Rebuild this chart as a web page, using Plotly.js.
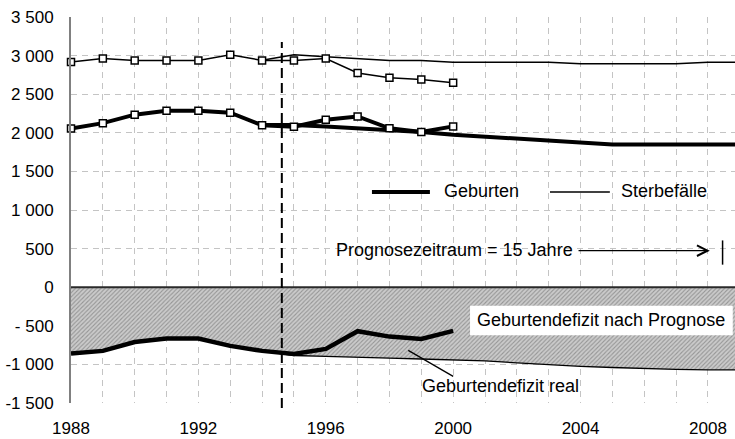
<!DOCTYPE html>
<html>
<head>
<meta charset="utf-8">
<script src="https://cdn.plot.ly/plotly-3.0.1.min.js"></script>
<style>
  html, body { margin: 0; padding: 0; background: #fff; }
  #chart { width: 735px; height: 439px; }
</style>
</head>
<body>
<div id="chart"></div>
<script>
// ---- data ----
const jahreReal = [1988, 1989, 1990, 1991, 1992, 1993, 1994, 1995, 1996, 1997, 1998, 1999, 2000];
const geburtenReal = [2055, 2125, 2235, 2285, 2285, 2260, 2098, 2078, 2170, 2212, 2058, 2010, 2083];
const sterbefaelleReal = [2917, 2962, 2938, 2938, 2938, 3010, 2938, 2938, 2962, 2775, 2712, 2690, 2648];
const defizitReal = [-860, -825, -710, -665, -665, -760, -825, -865, -800, -570, -640, -670, -565];

const jahrePrognose = [1994, 1995, 1996, 1997, 1998, 1999, 2000, 2001, 2002, 2003, 2004, 2005, 2006, 2007, 2008, 2009];
const geburtenPrognose = [2100, 2100, 2080, 2060, 2040, 2010, 1975, 1950, 1920, 1900, 1875, 1850, 1850, 1850, 1850, 1850];
const sterbefaellePrognose = [2940, 3010, 2985, 2960, 2935, 2935, 2915, 2915, 2915, 2915, 2895, 2895, 2895, 2895, 2915, 2915];

const jahreDefizit = [1988, 1989, 1990, 1991, 1992, 1993, 1994, 1995, 1996, 1997, 1998, 1999, 2000, 2001, 2002, 2003, 2004, 2005, 2006, 2007, 2008, 2009];
const defizitPrognose = [-860, -825, -710, -665, -665, -760, -825, -885, -895, -910, -920, -930, -940, -955, -980, -1005, -1025, -1040, -1055, -1065, -1070, -1070];

const xTickVals = [1988, 1989, 1990, 1991, 1992, 1993, 1994, 1995, 1996, 1997, 1998, 1999, 2000, 2001, 2002, 2003, 2004, 2005, 2006, 2007, 2008];
const xTickLabels = ['1988', '', '', '', '1992', '', '', '', '1996', '', '', '', '2000', '', '', '', '2004', '', '', '', '2008'];
const yTickVals = [-1500, -1000, -500, 0, 500, 1000, 1500, 2000, 2500, 3000, 3500];
const yTickLabels = ['-1 500', '-1 000', '- 500', '0', '500', '1 000', '1 500', '2 000', '2 500', '3 000', '3 500'];

const prognoseBeginn = 1994.62;

// ---- styles ----
const FONT = 'Liberation Sans, Arial, sans-serif';
const FS = 18;
const TFS = 17;

const traces = [
  {
    x: jahreDefizit, y: defizitPrognose, type: 'scatter', mode: 'lines',
    fill: 'tozeroy',
    fillcolor: '#c4c4c4',
    fillpattern: { shape: '/', bgcolor: '#cbcbcb', fgcolor: '#959595', size: 3, solidity: 0.35 },
    line: { color: '#000', width: 1.3 },
    hoverinfo: 'skip', showlegend: false
  },
  {
    x: jahreReal, y: defizitReal, type: 'scatter', mode: 'lines',
    line: { color: '#000', width: 4.5 }, showlegend: false
  },
  {
    x: jahrePrognose, y: sterbefaellePrognose, type: 'scatter', mode: 'lines',
    line: { color: '#000', width: 1.5 }, showlegend: false
  },
  {
    x: jahrePrognose, y: geburtenPrognose, type: 'scatter', mode: 'lines',
    line: { color: '#000', width: 4 }, showlegend: false
  },
  {
    x: jahreReal, y: sterbefaelleReal, type: 'scatter', mode: 'lines+markers',
    line: { color: '#000', width: 1.5 },
    marker: { symbol: 'square', size: 7, color: '#fff', line: { color: '#000', width: 1.5 } },
    cliponaxis: false, showlegend: false
  },
  {
    x: jahreReal, y: geburtenReal, type: 'scatter', mode: 'lines+markers',
    line: { color: '#000', width: 4 },
    marker: { symbol: 'square', size: 7, color: '#fff', line: { color: '#000', width: 1.5 } },
    cliponaxis: false, showlegend: false
  }
];

const layout = {
  width: 735, height: 439,
  margin: { l: 71, r: 0, t: 17, b: 36, pad: 0 },
  paper_bgcolor: '#fff', plot_bgcolor: '#fff',
  font: { family: FONT, size: FS, color: '#000' },
  showlegend: false,
  xaxis: {
    range: [1988, 2008.85],
    tickmode: 'array', tickvals: xTickVals, ticktext: xTickLabels,
    showgrid: true, gridcolor: '#c4c4c4', griddash: '6px,5px', gridwidth: 1,
    zeroline: false, showline: false, ticks: '',
    ticklabelstandoff: 13,
    tickfont: { family: FONT, size: TFS, color: '#000' },
    fixedrange: true
  },
  yaxis: {
    range: [-1500, 3500],
    tickmode: 'array', tickvals: yTickVals, ticktext: yTickLabels,
    showgrid: true, gridcolor: '#c4c4c4', griddash: '6px,5px', gridwidth: 1,
    zeroline: false,
    showline: true, linecolor: '#808080', linewidth: 2,
    ticks: '', ticklabelstandoff: 12,
    tickfont: { family: FONT, size: TFS, color: '#000' },
    fixedrange: true
  },
  shapes: [
    // zero line
    { type: 'line', xref: 'paper', yref: 'y', x0: 0, x1: 1, y0: 0, y1: 0,
      line: { color: '#2a2a2a', width: 2 }, layer: 'above' },
    // beginning of forecast
    { type: 'line', xref: 'x', yref: 'paper', x0: prognoseBeginn, x1: prognoseBeginn, y0: -0.013, y1: 0.935,
      line: { color: '#000', width: 2, dash: '10px,5px' }, layer: 'above' },
    // legend samples
    { type: 'line', xref: 'x', yref: 'y', x0: 1997.45, x1: 1999.27, y0: 1233, y1: 1233,
      line: { color: '#000', width: 4 } },
    { type: 'line', xref: 'x', yref: 'y', x0: 2003.04, x1: 2004.92, y0: 1233, y1: 1233,
      line: { color: '#000', width: 1.5 } },
    // end marker of forecast period
    { type: 'line', xref: 'x', yref: 'y', x0: 2008.46, x1: 2008.46, y0: 292, y1: 606,
      line: { color: '#000', width: 1.5 } },
    // white label box
    { type: 'rect', xref: 'x', yref: 'y', x0: 2000.53, x1: 2008.78, y0: -624, y1: -239,
      fillcolor: '#fff', line: { width: 0 }, layer: 'above' },
    // leader line for real deficit
    { type: 'line', xref: 'x', yref: 'y', x0: 1998.59, x1: 2000.0, y0: -819, y1: -1155,
      line: { color: '#000', width: 1.3 }, layer: 'above' }
  ],
  annotations: [
    { xref: 'x', yref: 'y', x: 1999.66, y: 1250, text: 'Geburten', showarrow: false,
      xanchor: 'left', yanchor: 'middle', font: { family: FONT, size: FS, color: '#000' } },
    { xref: 'x', yref: 'y', x: 2005.22, y: 1250, text: 'Sterbefälle', showarrow: false,
      xanchor: 'left', yanchor: 'middle', font: { family: FONT, size: FS, color: '#000' } },
    { xref: 'x', yref: 'y', x: 1996.27, y: 480, text: 'Prognosezeitraum = 15 Jahre', showarrow: false,
      xanchor: 'left', yanchor: 'middle', font: { family: FONT, size: FS, color: '#000' } },
    { xref: 'x', yref: 'y', x: 2008.06, y: 473, ax: 2003.89, ay: 473, axref: 'x', ayref: 'y',
      text: '', showarrow: true, arrowhead: 5, arrowsize: 1.6, arrowwidth: 1.3, arrowcolor: '#000' },
    { xref: 'x', yref: 'y', x: 2004.64, y: -425, text: 'Geburtendefizit nach Prognose', showarrow: false,
      xanchor: 'center', yanchor: 'middle', font: { family: FONT, size: FS, color: '#000' } },
    { xref: 'x', yref: 'y', x: 1998.96, y: -1280, text: 'Geburtendefizit real', showarrow: false,
      xanchor: 'left', yanchor: 'middle', font: { family: FONT, size: FS, color: '#000' } }
  ]
};

Plotly.newPlot('chart', traces, layout, { staticPlot: true, displayModeBar: false });
</script>
</body>
</html>
